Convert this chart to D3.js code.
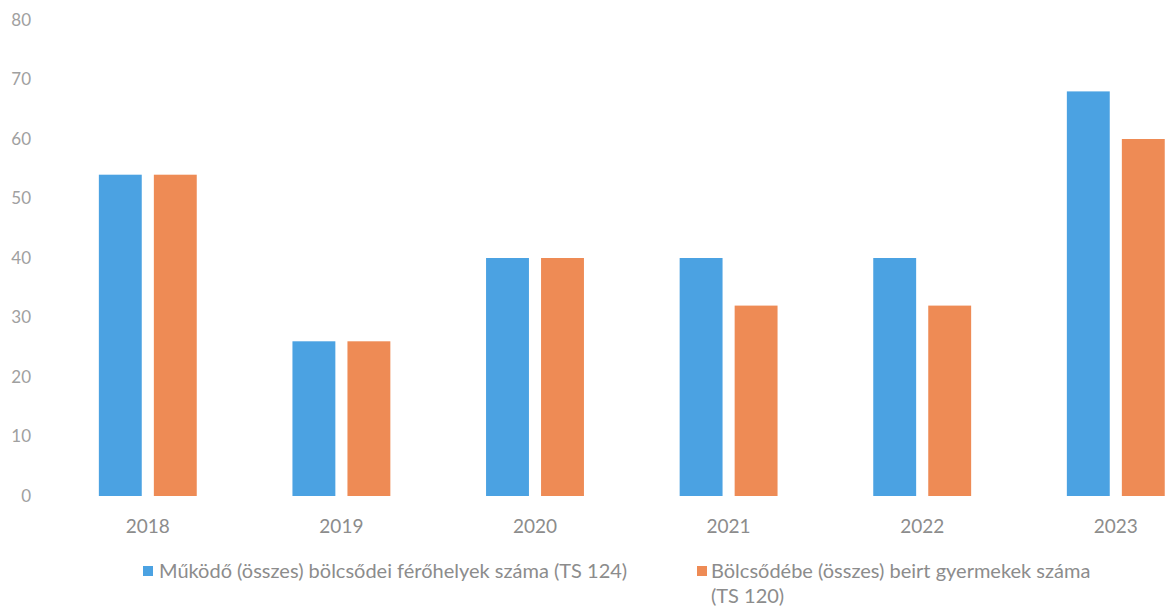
<!DOCTYPE html>
<html>
<head>
<meta charset="utf-8">
<script src="https://cdn.jsdelivr.net/npm/d3@7"></script>
<style>
  html, body { margin: 0; padding: 0; background: #fff; }
  svg { display: block; }
  text { font-family: Lato, "Open Sans", sans-serif; }
</style>
</head>
<body>
<svg id="chart" width="1166" height="608"></svg>
<script>
const years = ["2018", "2019", "2020", "2021", "2022", "2023"];
const seriesNames = [
  "Működő (összes) bölcsődei férőhelyek száma (TS 124)",
  "Bölcsődébe (összes) beirt gyermekek száma (TS 120)"
];
const ferohelyek = [54, 26, 40, 40, 40, 68];
const beirtGyermekek = [54, 26, 40, 32, 32, 60];
const yTicks = [0, 10, 20, 30, 40, 50, 60, 70, 80];
const colors = ["#4ba2e2", "#ee8b55"];

const svg = d3.select("#chart");

const y = d3.scaleLinear().domain([0, 80]).range([496, 20]);
const x0 = d3.scaleBand().domain(years).range([51, 51 + 6 * 193.6]).padding(0);
const x1 = d3.scaleBand().domain([0, 1]).range([0, x0.bandwidth()])
  .paddingInner(0.22).paddingOuter(0.87);

// Y axis labels
const yAxis = d3.axisLeft(y).tickValues(yTicks).tickSize(0).tickPadding(0);
const gy = svg.append("g").attr("transform", "translate(31,0)").call(yAxis);
gy.select(".domain").remove();
gy.selectAll("text")
  .attr("fill", "#a0a0a0")
  .style("font-size", "17px")
  .style("font-family", "Lato, 'Open Sans', sans-serif");

// X axis labels
const xAxis = d3.axisBottom(x0).tickSize(0).tickPadding(0);
const gx = svg.append("g").attr("transform", "translate(0,519)").call(xAxis);
gx.select(".domain").remove();
gx.selectAll("text")
  .attr("fill", "#8c8c8c")
  .style("font-size", "19px")
  .style("font-family", "Lato, 'Open Sans', sans-serif");

// Bars
const data = years.map((yr, i) => ({ year: yr, values: [ferohelyek[i], beirtGyermekek[i]] }));
const groups = svg.append("g").selectAll("g").data(data).join("g")
  .attr("transform", d => `translate(${x0(d.year)},0)`);
groups.selectAll("rect").data(d => d.values.map((v, k) => ({ k, v }))).join("rect")
  .attr("x", d => x1(d.k))
  .attr("width", x1.bandwidth())
  .attr("y", d => y(d.v))
  .attr("height", d => y(0) - y(d.v))
  .attr("fill", d => colors[d.k]);

// Legend
const legend = svg.append("g");
const leg1 = legend.append("g").attr("transform", "translate(143,571)");
leg1.append("rect").attr("x", 0).attr("y", -5).attr("width", 10).attr("height", 10).attr("fill", colors[0]);
leg1.append("text").attr("x", 16).attr("y", 0).attr("dy", "0.35em")
  .attr("fill", "#8c8c8c").style("font-size", "20px").text(seriesNames[0]);

const leg2 = legend.append("g").attr("transform", "translate(697,571)");
leg2.append("rect").attr("x", 0).attr("y", -5).attr("width", 10).attr("height", 10).attr("fill", colors[1]);
const t2 = leg2.append("text").attr("x", 14).attr("y", 0).attr("dy", "0.35em")
  .attr("fill", "#8c8c8c").style("font-size", "20px");
t2.append("tspan").attr("x", 14).text("Bölcsődébe (összes) beirt gyermekek száma");
t2.append("tspan").attr("x", 14).attr("dy", "25px").text("(TS 120)");
</script>
</body>
</html>
